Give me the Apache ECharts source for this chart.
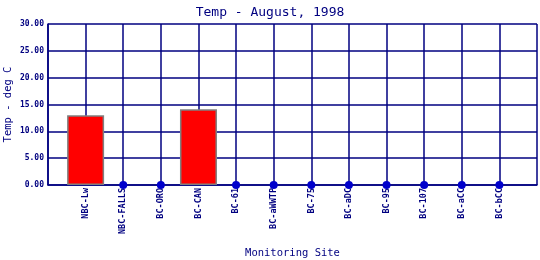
<!DOCTYPE html>
<html><head><meta charset="utf-8">
<script src="https://cdn.jsdelivr.net/npm/echarts@6/dist/echarts.min.js"></script>
<style>html,body{margin:0;padding:0;background:#fff}#c{width:540px;height:260px}</style>
</head><body><div id="c"></div>
<script>
const categories = ['NBC-Lw','NBC-FALLS','BC-ORO','BC-CAN','BC-61','BC-aWWTP','BC-75','BC-aDC','BC-95','BC-107','BC-aCC','BC-bCC'];
const temps = [13.0, 0, 0, 14.1, 0, 0, 0, 0, 0, 0, 0, 0];
const yTicks = [0, 5, 10, 15, 20, 25, 30];

const navy = '#000080';
const font = 'DejaVu Sans Mono';
const barData = [], dotData = [];
temps.forEach((v, i) => { if (v > 0) barData.push([i + 1, v]); else dotData.push([i + 1, v]); });

const chart = echarts.init(document.getElementById('c'), null, {renderer: 'canvas'});
chart.setOption({
  animation: false,
  title: {text: 'Temp - August, 1998', left: 'center', top: 1,
    textStyle: {color: navy, fontFamily: font, fontSize: 13, fontWeight: 'normal'}},
  grid: {left: 48, right: 3, top: 24, bottom: 75, containLabel: false, outerBoundsMode: 'none'},
  xAxis: {type: 'value', min: 0, max: categories.length + 1, interval: 1,
    name: 'Monitoring Site', nameLocation: 'middle', nameGap: 63, nameMoveOverlap: false,
    nameTextStyle: {color: navy, fontFamily: font, fontSize: 10.5},
    axisLine: {show: true, lineStyle: {color: navy, width: 1.5}},
    axisTick: {show: false},
    splitLine: {show: true, lineStyle: {color: navy, width: 1.5}},
    axisLabel: {rotate: 90, color: navy, fontFamily: font, fontSize: 8.5, fontWeight: 'bold', margin: 3,
      formatter: v => categories[v - 1] || ''}},
  yAxis: {type: 'value', min: yTicks[0], max: yTicks[yTicks.length - 1], interval: 5,
    name: 'Temp - deg C', nameLocation: 'middle', nameGap: 34, nameMoveOverlap: false,
    nameTextStyle: {color: navy, fontFamily: font, fontSize: 10.5},
    axisLine: {show: true, lineStyle: {color: navy, width: 1.5}},
    axisTick: {show: false},
    splitLine: {show: true, lineStyle: {color: navy, width: 1.5}},
    axisLabel: {color: navy, fontFamily: font, fontSize: 8, fontWeight: 'bold', margin: 4,
      formatter: v => v.toFixed(2)}},
  series: [
    {type: 'bar', data: barData, barWidth: 37,
      itemStyle: {color: '#ff0000', borderColor: '#808080', borderWidth: 1.5}},
    {type: 'scatter', data: dotData, symbol: 'circle', symbolSize: 8,
      itemStyle: {color: '#0000cc', opacity: 1}}
  ]
});
</script></body></html>
